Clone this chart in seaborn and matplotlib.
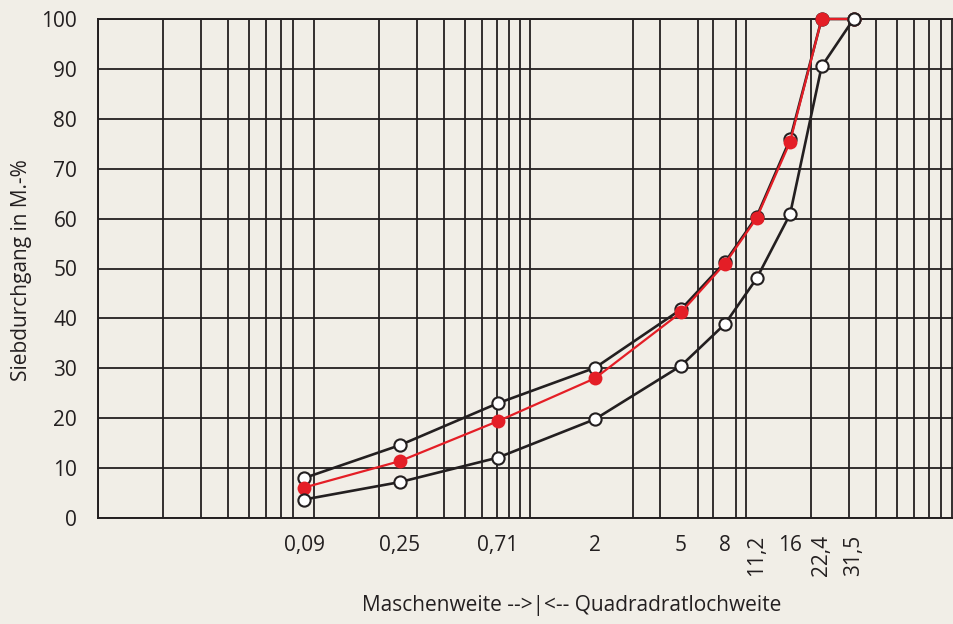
import matplotlib
matplotlib.use("Agg")
import matplotlib.pyplot as plt
import seaborn as sns
import numpy as np
from matplotlib.ticker import FixedLocator, LogLocator, NullFormatter, MultipleLocator

# sieve sizes in mm (x) and passing percentages (y)
sieve_sizes = [0.09, 0.25, 0.71, 2, 5, 8, 11.2, 16, 22.4, 31.5]
tick_labels = ["0,09", "0,25", "0,71", "2", "5", "8", "11,2", "16", "22,4", "31,5"]
upper_limit = [8.0, 14.6, 23.0, 30.1, 41.8, 51.3, 60.4, 75.9, 100, 100]
grading = [6.1, 11.4, 19.4, 28.0, 41.2, 51.0, 60.1, 75.4, 100, 100]
lower_limit = [3.7, 7.2, 12.1, 19.8, 30.5, 38.9, 48.0, 60.9, 90.5, 100]
rotated_labels = ["11,2", "22,4", "31,5"]

bg = "#F1EEE7"
ink = "#231F20"
red = "#E41E26"

sns.set_theme(style="white")
plt.rcParams["font.family"] = ["Open Sans", "DejaVu Sans"]

fig = plt.figure(figsize=(9.54, 6.24), dpi=100, facecolor=bg)
ax = fig.add_axes([98 / 954, 1 - 518 / 624, 1 - 98 / 954, (518 - 19) / 624])
ax.set_facecolor(bg)

# upper limit curve (under the red one)
sns.lineplot(x=sieve_sizes, y=upper_limit, ax=ax, color=ink, lw=1.9, estimator=None,
             marker="o", markersize=8.8, markerfacecolor="white", markeredgecolor=ink,
             markeredgewidth=1.5, clip_on=False, zorder=3)
# actual grading curve
sns.lineplot(x=sieve_sizes, y=grading, ax=ax, color=red, lw=1.6, estimator=None,
             marker="o", markersize=10, markerfacecolor=red, markeredgecolor=red,
             markeredgewidth=0, clip_on=False, zorder=4)
# lower limit curve
sns.lineplot(x=sieve_sizes, y=lower_limit, ax=ax, color=ink, lw=1.9, estimator=None,
             marker="o", markersize=8.8, markerfacecolor="white", markeredgecolor=ink,
             markeredgewidth=1.5, clip_on=False, zorder=5)

ax.set_xscale("log")
ax.set_xlim(0.01, 10 ** (-2 + (954 - 98) / 216))
ax.set_ylim(0, 100)

ax.xaxis.set_major_locator(FixedLocator(sieve_sizes))
ax.set_xticklabels(tick_labels)
ax.xaxis.set_minor_locator(LogLocator(base=10, subs=np.arange(1, 10), numticks=100))
ax.xaxis.set_minor_formatter(NullFormatter())
ax.yaxis.set_major_locator(MultipleLocator(10))

ax.grid(False)
ax.xaxis.grid(True, which="minor", color=ink, lw=1.3)
ax.yaxis.grid(True, which="major", color=ink, lw=1.3)
ax.set_axisbelow(True)

ax.tick_params(axis="both", which="both", length=0)
ax.tick_params(axis="x", pad=12, labelsize=15, colors=ink)
ax.tick_params(axis="y", pad=15, labelsize=15, colors=ink)
for lab in ax.get_xticklabels():
    if lab.get_text() in rotated_labels:
        lab.set_rotation(90)

for side in ["left", "bottom", "top"]:
    ax.spines[side].set_color(ink)
    ax.spines[side].set_linewidth(1.4)
ax.spines["right"].set_visible(False)

ax.set_ylabel("Siebdurchgang in M.-%", fontsize=15, color=ink)
ax.yaxis.label.set_va("center")
ax.yaxis.set_label_coords(-0.089, 0.497)
ax.set_xlabel("Maschenweite -->|<-- Quadradratlochweite", fontsize=15, color=ink)
ax.xaxis.set_label_coords(0.553, -0.155)

fig.savefig("out.png", dpi=100, facecolor=bg)
